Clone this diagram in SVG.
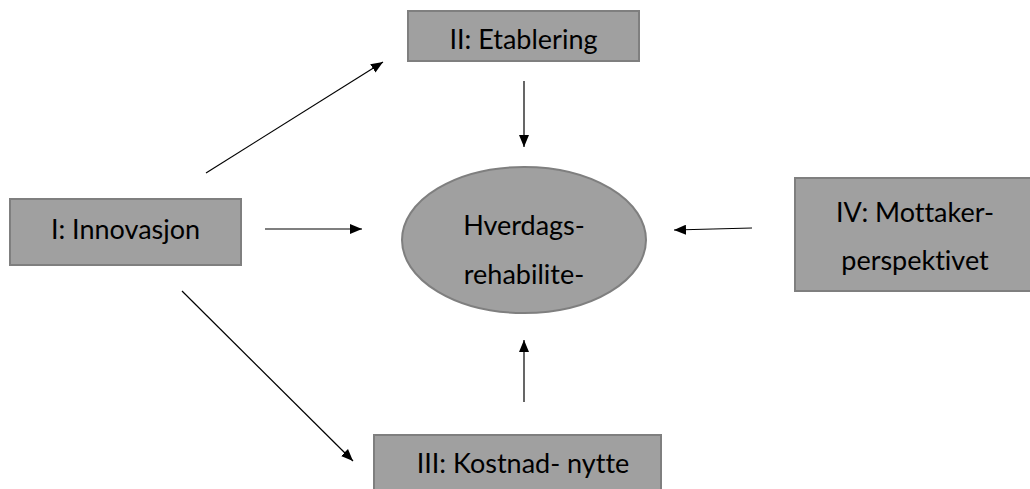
<svg xmlns="http://www.w3.org/2000/svg" width="1030" height="489" viewBox="0 0 1030 489">
<defs>
<marker id="ah" viewBox="0 0 12 10" refX="12" refY="5" markerWidth="12" markerHeight="10" markerUnits="userSpaceOnUse" orient="auto">
<path d="M0,0 L12,5 L0,10 Z" fill="#000"/>
</marker>
</defs>
<style>
.box{fill:#a0a0a0;stroke:#7f7f7f;stroke-width:2}
.t{font-family:"Lato","Open Sans",sans-serif;font-size:27px;fill:#000;text-anchor:middle;font-variant-ligatures:none}
.c{stroke:#000;stroke-width:1.2;fill:none;marker-end:url(#ah)}
</style>
<rect width="1030" height="489" fill="#fff"/>
<g id="connectors">
<line class="c" x1="206" y1="173" x2="383" y2="62"/>
<line class="c" x1="524" y1="81" x2="524" y2="147"/>
<line class="c" x1="265" y1="229" x2="362" y2="229"/>
<line class="c" x1="752" y1="228" x2="674" y2="230"/>
<line class="c" x1="182" y1="291" x2="353" y2="461"/>
<line class="c" x1="524" y1="402" x2="524" y2="340"/>
</g>
<g id="node-2">
<rect class="box" x="408" y="11" width="231" height="50"/>
<text class="t" x="523.5" y="49">II: Etablering</text>
</g>
<g id="node-1">
<rect class="box" x="10" y="199" width="231" height="66"/>
<text class="t" x="125.5" y="239">I: Innovasjon</text>
</g>
<g id="node-center">
<ellipse cx="524" cy="240" rx="122" ry="73" fill="#a0a0a0" stroke="#7f7f7f" stroke-width="2"/>
<text class="t" x="524" y="235">Hverdags-</text>
<text class="t" x="524" y="284">rehabilite-</text>
</g>
<g id="node-4">
<rect class="box" x="795" y="178" width="240" height="113"/>
<text class="t" x="915" y="222">IV: Mottaker-</text>
<text class="t" x="915" y="270">perspektivet</text>
</g>
<g id="node-3">
<rect class="box" x="374" y="435" width="287" height="60"/>
<text class="t" x="523" y="473">III: Kostnad- nytte</text>
</g>
</svg>
